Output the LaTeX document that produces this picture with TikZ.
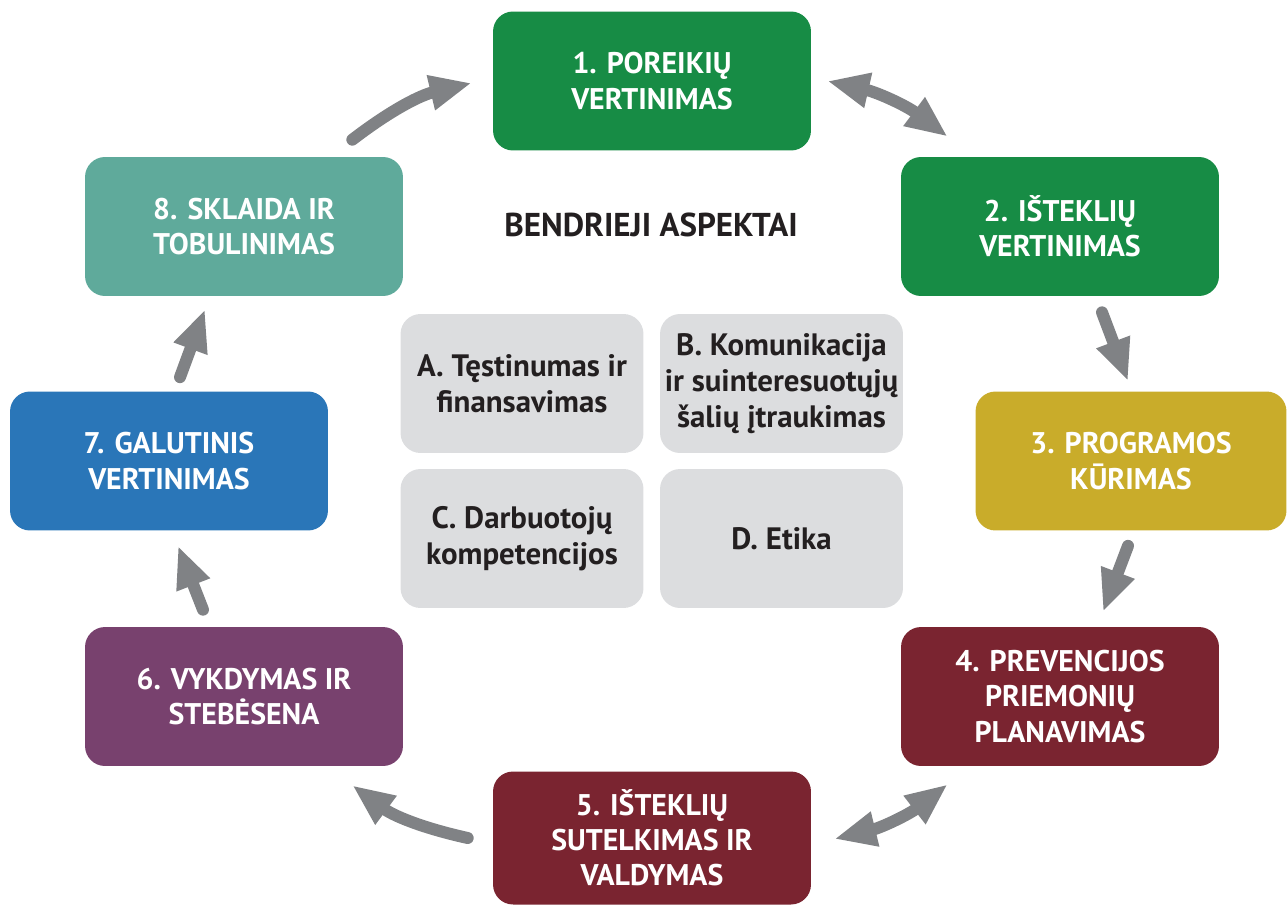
\documentclass[tikz,border=0pt]{standalone}
\usepackage{fontspec}
\setmainfont{PT Sans}
\usetikzlibrary{arrows.meta,calc}
\definecolor{stgreen}{RGB}{23,140,69}
\definecolor{stteal}{RGB}{95,170,155}
\definecolor{styellow}{RGB}{201,172,42}
\definecolor{stred}{RGB}{122,36,48}
\definecolor{stpurple}{RGB}{120,65,110}
\definecolor{stblue}{RGB}{42,118,184}
\definecolor{aspgray}{RGB}{220,221,223}
\definecolor{arrgray}{RGB}{128,130,133}
\definecolor{txt}{RGB}{35,31,32}
\tikzset{
	stage/.style={fill=#1,rounded corners=0.4cm,minimum width=6.36cm,minimum height=2.78cm,inner sep=0pt,align=center,text=white,font=\bfseries\fontsize{17}{20}\selectfont},
	aspect/.style={fill=aspgray,rounded corners=0.4cm,minimum width=4.86cm,minimum height=2.78cm,inner sep=0pt,align=center,text=txt,font=\bfseries\fontsize{17.6}{20.5}\selectfont},
	flow/.style={draw=arrgray,line width=0.24cm,line cap=round,-{Triangle[length=0.84cm,width=0.66cm]}},
	dflow/.style={draw=arrgray,line width=0.24cm,{Triangle[length=0.84cm,width=0.66cm]}-{Triangle[length=0.84cm,width=0.66cm]}}
}
\begin{document}
\begin{tikzpicture}[x=0.02cm,y=-0.02cm]
	\useasboundingbox (0,0) rectangle (1287,906);
	% stages
	\node [stage=stgreen] (b1) at (652,81) {1. POREIKIŲ\\VERTINIMAS};
	\node [stage=stgreen] (b2) at (1060,226.5) {2. IŠTEKLIŲ\\VERTINIMAS};
	\node [stage=styellow,minimum width=6.22cm] (b3) at (1131,461) {3. PROGRAMOS\\KŪRIMAS};
	\node [stage=stred] (b4) at (1060,696.5) {4. PREVENCIJOS\\PRIEMONIŲ\\PLANAVIMAS};
	\node [stage=stred,minimum height=2.66cm] (b5) at (652,838) {5. IŠTEKLIŲ\\SUTELKIMAS IR\\VALDYMAS};
	\node [stage=stpurple] (b6) at (244,696.5) {6. VYKDYMAS IR\\STEBĖSENA};
	\node [stage=stblue] (b7) at (169,461) {7. GALUTINIS\\VERTINIMAS};
	\node [stage=stteal] (b8) at (244,226.5) {8. SKLAIDA IR\\TOBULINIMAS};

	% general aspects
	\node [text=txt,font=\bfseries\fontsize{18.8}{22}\selectfont] (title) at (651,225) {BENDRIEJI ASPEKTAI};
	\node [aspect] (asA) at (522,383.5) {A. Tęstinumas ir\\finansavimas};
	\node [aspect] (asB) at (781.5,383.5) {B. Komunikacija\\ir suinteresuotųjų\\šalių įtraukimas};
	\node [aspect] (asC) at (522,538.5) {C. Darbuotojų\\kompetencijos};
	\node [aspect] (asD) at (781.5,538.5) {D. Etika};

	% cycle arrows
	\draw [flow] ($(b8.north east)+(-51,-17)$) to[bend left=12] ($(b1.west)+(-21,2)$);
	\draw [dflow] ($(b1.east)+(16,0)$) to[bend left=12] ($(b2.north west)+(47,-20)$);
	\draw [flow] ($(b2.south)+(42,16)$) -- ($(b3.north)+(-3,-10)$);
	\draw [flow] ($(b3.south)+(-3,15)$) -- ($(b4.north)+(43,-15)$);
	\draw [dflow] ($(b4.south west)+(47,18)$) to[bend left=12] ($(b5.east)+(23,1)$);
	\draw [flow] ($(b5.west)+(-25,0)$) to[bend left=12] ($(b6.south east)+(-51,19)$);
	\draw [flow] ($(b6.north)+(-41,-17)$) -- ($(b7.south)+(9,15)$);
	\draw [flow] ($(b7.north)+(11,-14)$) -- ($(b8.south)+(-39,13)$);
\end{tikzpicture}
\end{document}
